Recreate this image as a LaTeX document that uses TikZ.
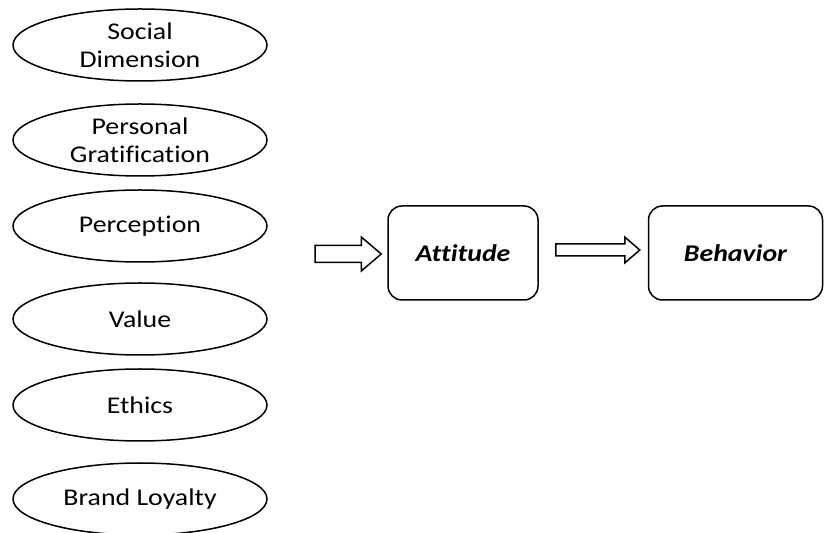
\documentclass[tikz,border=0pt]{standalone}
\usepackage{fontspec}
\setmainfont{Carlito}[Ligatures=NoCommon,FakeStretch=1.16]
\usetikzlibrary{shapes.geometric,calc}

\newcommand\fatarrow[5]{%
\draw[fat] ($(#1)+(0,#3)$) -- ($(#2)+(-#5,#3)$) -- ($(#2)+(-#5,#4)$) -- (#2)
  -- ($(#2)+(-#5,-#4)$) -- ($(#2)+(-#5,-#3)$) -- ($(#1)+(0,-#3)$) -- cycle;}

\begin{document}
\begin{tikzpicture}[x=1pt,y=1pt,
  factor/.style={ellipse,draw,line width=1.5pt,minimum width=254pt,minimum height=72pt,
    inner sep=0pt,align=center,font=\fontsize{24}{28}\selectfont},
  stage/.style={rectangle,rounded corners=14pt,draw,line width=1.5pt,minimum height=94pt,
    font=\fontsize{24}{28}\selectfont\bfseries\itshape},
  fat/.style={draw,line width=1.5pt,line join=miter}]
\useasboundingbox (0,0) rectangle (825,533);

\node[factor] (soc) at (140,488) {Social\\Dimension};
\node[factor] (pers) at (140,393) {Personal\\Gratification};
\node[factor] (perc) at (140,307) {Perception};
\node[factor] (val) at (140,214) {Value};
\node[factor] (eth) at (140,128) {Ethics};
\node[factor] (brand) at (140,34) {Brand Loyalty};

\node[stage,minimum width=150pt] (att) at (463,280) {Attitude};
\node[stage,minimum width=174pt] (beh) at (735.5,280) {Behavior};

\coordinate (in) at (315,279);
\coordinate (a1) at ($(att.west)+(-6,-1)$);
\coordinate (a2s) at ($(att.east)+(17,3)$);
\coordinate (a2e) at ($(beh.west)+(-8,3)$);

\fatarrow{in}{a1}{8.5}{17}{20}
\fatarrow{a2s}{a2e}{6}{13}{15}

\end{tikzpicture}
\end{document}
